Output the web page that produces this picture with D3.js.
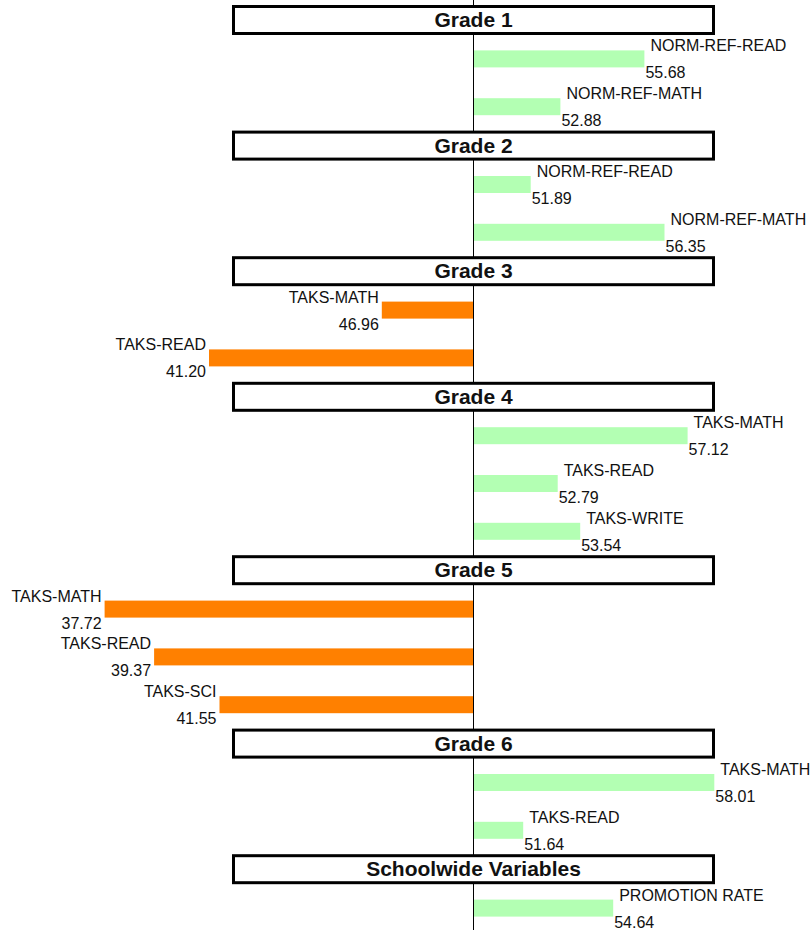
<!DOCTYPE html>
<html lang="en">
<head>
    <meta charset="UTF-8">
    <title>Grade scores</title>
    <script src="https://d3js.org/d3.v7.min.js"></script>
    <style>
        body { margin: 0; background: #fff; }
        text { font-family: "Liberation Sans", Arial, sans-serif; fill: #111; }
    </style>
</head>
<body>
    <script>
        // data
        const groups = ["Grade 1", "Grade 2", "Grade 3", "Grade 4", "Grade 5", "Grade 6", "Schoolwide Variables"];
        const measures = [
            ["NORM-REF-READ", "NORM-REF-MATH"],
            ["NORM-REF-READ", "NORM-REF-MATH"],
            ["TAKS-MATH", "TAKS-READ"],
            ["TAKS-MATH", "TAKS-READ", "TAKS-WRITE"],
            ["TAKS-MATH", "TAKS-READ", "TAKS-SCI"],
            ["TAKS-MATH", "TAKS-READ"],
            ["PROMOTION RATE"]
        ];
        const scores = [
            [55.68, 52.88],
            [51.89, 56.35],
            [46.96, 41.20],
            [57.12, 52.79, 53.54],
            [37.72, 39.37, 41.55],
            [58.01, 51.64],
            [54.64]
        ];
        const baseline = 50;

        const w = 812, h = 930;
        const hdrUnits = 30 / 47.8;   // header row is shorter than a bar row

        // flatten into rows with a running position in "row units"
        let rows = [], pos = 0;
        groups.forEach((g, i) => {
            rows.push({type: "header", name: g, y0: pos, size: hdrUnits});
            pos += hdrUnits;
            measures[i].forEach((m, j) => {
                rows.push({type: "bar", name: m, value: scores[i][j], y0: pos, size: 1});
                pos += 1;
            });
        });

        const x = d3.scaleLinear().domain([50 - 473 / 30, 50 + 339 / 30]).range([0, w]);
        const y = d3.scaleLinear().domain([0, pos]).range([5, 5 + pos * 47.8]);

        const svg = d3.select("body").append("svg")
            .attr("width", w)
            .attr("height", h);

        // center axis
        svg.append("line")
            .attr("x1", x(baseline) + 0.5).attr("x2", x(baseline) + 0.5)
            .attr("y1", 0).attr("y2", h)
            .attr("stroke", "#000").attr("stroke-width", 1);

        const bars = rows.filter(d => d.type === "bar");
        const barH = 17;
        const cy = d => y(d.y0 + d.size / 2);

        svg.selectAll("rect.bar")
            .data(bars)
            .enter()
            .append("rect")
            .attr("class", "bar")
            .attr("x", d => d.value >= baseline ? x(baseline) + 1 : x(d.value))
            .attr("width", d => Math.abs(x(d.value) - x(baseline)))
            .attr("y", d => cy(d) - barH / 2)
            .attr("height", barH)
            .attr("fill", d => d.value >= baseline ? "#b3ffb3" : "#ff8000");

        svg.selectAll("text.name")
            .data(bars)
            .enter()
            .append("text")
            .attr("class", "name")
            .attr("x", d => d.value >= baseline ? x(d.value) + 7 : x(d.value) - 3)
            .attr("y", d => cy(d) - barH / 2 + 1)
            .attr("text-anchor", d => d.value >= baseline ? "start" : "end")
            .style("font-size", "16px")
            .text(d => d.name);

        svg.selectAll("text.val")
            .data(bars)
            .enter()
            .append("text")
            .attr("class", "val")
            .attr("x", d => d.value >= baseline ? x(d.value) + 2 : x(d.value) - 3)
            .attr("y", d => cy(d) + barH / 2 + 11)
            .attr("text-anchor", d => d.value >= baseline ? "start" : "end")
            .style("font-size", "16px")
            .text(d => d.value.toFixed(2));

        // group header boxes
        const headers = rows.filter(d => d.type === "header");
        const hdr = svg.selectAll("g.hdr")
            .data(headers)
            .enter()
            .append("g")
            .attr("class", "hdr");

        hdr.append("rect")
            .attr("x", 233.5)
            .attr("width", 480)
            .attr("y", d => cy(d) - 13.5)
            .attr("height", 27)
            .attr("fill", "#fff")
            .attr("stroke", "#000")
            .attr("stroke-width", 3);

        hdr.append("text")
            .attr("x", 473.5)
            .attr("y", d => cy(d) + 7)
            .attr("text-anchor", "middle")
            .style("font-size", "21px")
            .style("font-weight", "bold")
            .text(d => d.name);
    </script>
</body>
</html>
